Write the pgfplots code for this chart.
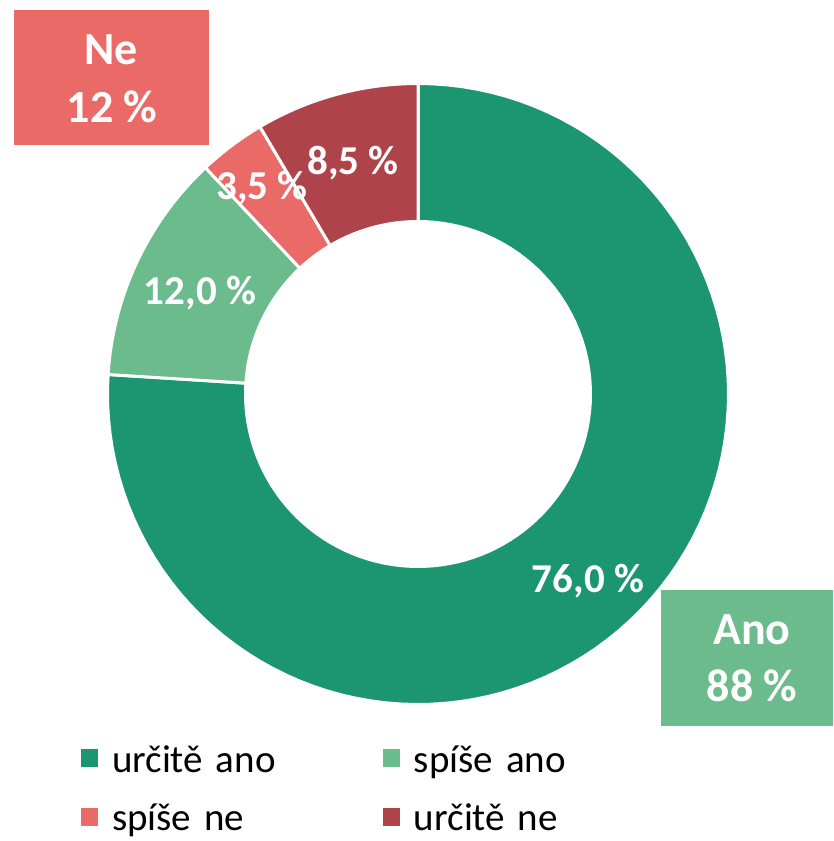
\documentclass[border=0pt]{standalone}
\usepackage{pgfplots}
\pgfplotsset{compat=1.18}
\usepackage{fontspec}
\setmainfont{Carlito}
\definecolor{cDG}{HTML}{1C9671}
\definecolor{cLG}{HTML}{6BBB8C}
\definecolor{cSA}{HTML}{EA6A68}
\definecolor{cDR}{HTML}{AF434A}
% slice: colour, start share (%), end share (%)
\newcommand{\slice}[3]{%
\addplot[fill=#1, draw=white, line width=3pt, line join=miter]
 ({418+(\t<1.005 ? 310.5 : 172.5)*cos(90-3.6*(\t<1.005 ? (#2+(#3-#2)*\t) : (#3-(#3-#2)*(\t-1.01))))},
  {447+(\t<1.005 ? 310.5 : 172.5)*sin(90-3.6*(\t<1.005 ? (#2+(#3-#2)*\t) : (#3-(#3-#2)*(\t-1.01))))}) -- cycle;
}
\begin{document}
\begin{tikzpicture}
\useasboundingbox (0,0) rectangle (833pt,841pt);
\begin{axis}[
  at={(0,0)}, anchor=south west,
  width=833pt, height=841pt, scale only axis,
  xmin=0, xmax=833, ymin=0, ymax=841,
  hide axis, clip=false,
  domain=0:2.01, samples=202, variable=\t,
  legend columns=2,
  legend image code/.code={\fill[#1, draw=none] (0pt,5pt) rectangle (17pt,23pt);},
  legend style={draw=none, fill=none, inner sep=0pt, outer sep=0pt,
    at={(axis cs:81,99)}, anchor=north west,
    row sep=27pt,
    nodes={inner sep=0pt, outer sep=0pt, text width=271pt, text height=30pt, text depth=2pt,
      font=\fontsize{39}{47}\selectfont, anchor=base west},
    /tikz/every odd column/.append style={column sep=14pt},
  },
]
% shares: 76.0, 12.0, 3.5, 8.5 (cumulative 0, 76, 88, 91.5, 100)
\slice{cDG}{0}{76}
\addlegendentry{určitě ano}
\slice{cLG}{76}{88}
\addlegendentry{spíše ano}
\slice{cSA}{88}{91.5}
\addlegendentry{spíše ne}
\slice{cDR}{91.5}{100}
\addlegendentry{určitě ne}
% value labels
\begin{scope}[every node/.style={text=white, font=\fontsize{41}{49}\selectfont\bfseries, anchor=base, inner sep=0pt}]
\node at (axis cs:588,248) {76,0 \%};
\node at (axis cs:200,536) {12,0 \%};
\node at (axis cs:262,641) {3,5 \%};
\node at (axis cs:353,666) {8,5 \%};
\end{scope}
% summary boxes
\fill[cSA] (axis cs:14,696) rectangle (axis cs:209,831);
\fill[cLG] (axis cs:661,115) rectangle (axis cs:833,251);
\begin{scope}[every node/.style={text=white, font=\fontsize{46}{55}\selectfont\bfseries, anchor=base, inner sep=0pt}]
\node at (axis cs:111,776) {Ne};
\node at (axis cs:112,718) {12 \%};
\node at (axis cs:752,196) {Ano};
\node at (axis cs:752,139) {88 \%};
\end{scope}
\end{axis}
\end{tikzpicture}
\end{document}
